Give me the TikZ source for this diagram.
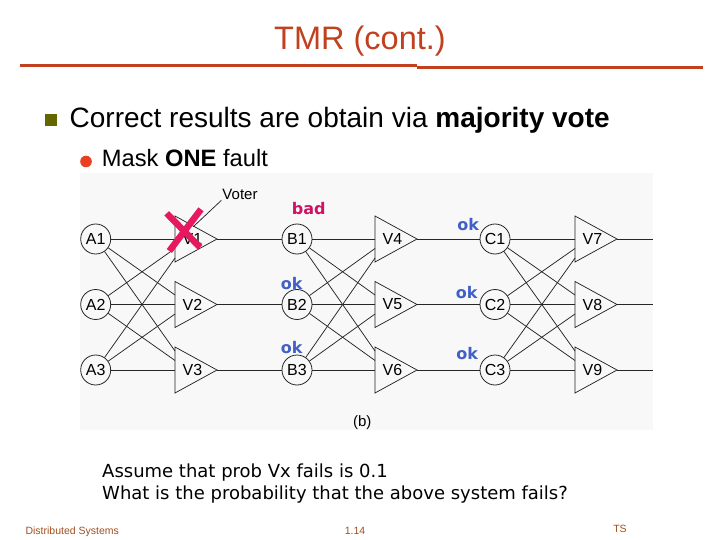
\documentclass[tikz,border=0pt]{standalone}
\usepackage{fontspec}
\setmainfont{Liberation Sans}
\newfontfamily\dejavu{DejaVu Sans}
\definecolor{titlered}{RGB}{192,64,32}
\definecolor{bulletolive}{RGB}{102,102,0}
\definecolor{dotred}{RGB}{232,64,32}
\definecolor{badred}{RGB}{204,20,100}
\definecolor{okblue}{RGB}{64,96,200}
\definecolor{xred}{RGB}{232,24,96}
\definecolor{footbrown}{RGB}{160,80,32}
\definecolor{figbg}{RGB}{248,248,248}
\newcommand\mkvoter[4]{%
  \begin{scope}[shift={(#2,#3)}]
    \draw[wire] (0,-23) -- (42,0) -- (0,23) -- cycle;
    \node[vlbl] (#1) at (17.5,0) {#1};
    \coordinate (#1-o) at (42,0);
    \coordinate (#1-a) at (0,{(1-#4)*9.5});
    \coordinate (#1-b) at (0,{(2-#4)*9.5});
    \coordinate (#1-c) at (0,{(3-#4)*9.5});
  \end{scope}}
\begin{document}
\begin{tikzpicture}[x=1pt,y=-1pt,
  wire/.style={draw=black!85, line width=0.75pt},
  unit/.style={circle, draw=black!85, line width=0.8pt, minimum size=30pt, inner sep=0pt, font=\fontsize{16}{16}\selectfont},
  vlbl/.style={inner sep=0pt, font=\fontsize{16}{16}\selectfont},
  stat/.style={inner sep=0pt, font=\dejavu\bfseries\fontsize{16}{16}\selectfont},
  xmark/.style={draw=xred, line width=6.5pt},
  foot/.style={anchor=base, text=footbrown, font=\fontsize{10.5}{11}\selectfont}]
\useasboundingbox (0,0) rectangle (720,540);
\fill[white] (0,0) rectangle (720,540);
% title
\node[anchor=base, text=titlered, font=\fontsize{32.5}{34}\selectfont, inner sep=0pt] (title) at (360,50) {TMR (cont.)};
\draw[titlered, line width=2.8pt] (20,65.7) -- (417,65.7);
\draw[titlered, line width=2.8pt] (417,67.3) -- (703,67.3);
% bullets
\fill[bulletolive] (44.5,114) rectangle (57,126.5);
\node[anchor=base west, inner sep=0pt, font=\fontsize{28}{30}\selectfont] (b1) at (69.5,127.5) {Correct results are obtain via \textbf{majority vote}};
\fill[dotred] (86,161.5) circle (5.8);
\node[anchor=base west, inner sep=0pt, font=\fontsize{23.7}{25}\selectfont] (b2) at (101.7,166.7) {Mask \textbf{ONE} fault};
% figure background
\fill[figbg] (80,173) rectangle (653,430);
% units
\node[unit] (A1) at (95.7,239) {A1};
\node[unit] (A2) at (95.7,304.5) {A2};
\node[unit] (A3) at (95.7,370) {A3};
\node[unit] (B1) at (297,239) {B1};
\node[unit] (B2) at (297,304.5) {B2};
\node[unit] (B3) at (297,370) {B3};
\node[unit] (C1) at (495,239) {C1};
\node[unit] (C2) at (495,304.5) {C2};
\node[unit] (C3) at (495,370) {C3};
% voters
\mkvoter{V1}{175}{239}{1}
\mkvoter{V2}{175}{304.5}{2}
\mkvoter{V3}{175}{370}{3}
\mkvoter{V4}{375}{239}{1}
\mkvoter{V5}{375}{304.5}{2}
\mkvoter{V6}{375}{370}{3}
\mkvoter{V7}{575}{239}{1}
\mkvoter{V8}{575}{304.5}{2}
\mkvoter{V9}{575}{370}{3}
% fan-in wires
\foreach \s/\r in {A1/a,A2/b,A3/c}{\foreach \v in {V1,V2,V3}{\draw[wire] (\s) -- (\v-\r);}}
\foreach \s/\r in {B1/a,B2/b,B3/c}{\foreach \v in {V4,V5,V6}{\draw[wire] (\s) -- (\v-\r);}}
\foreach \s/\r in {C1/a,C2/b,C3/c}{\foreach \v in {V7,V8,V9}{\draw[wire] (\s) -- (\v-\r);}}
% outputs
\draw[wire] (V1-o) -- (B1);
\draw[wire] (V2-o) -- (B2);
\draw[wire] (V3-o) -- (B3);
\draw[wire] (V4-o) -- (C1);
\draw[wire] (V5-o) -- (C2);
\draw[wire] (V6-o) -- (C3);
\coordinate (O7) at (653,239);
\coordinate (O8) at (653,304.5);
\coordinate (O9) at (653,370);
\draw[wire] (V7-o) -- (O7);
\draw[wire] (V8-o) -- (O8);
\draw[wire] (V9-o) -- (O9);
% voter callout
\node[inner sep=1pt, font=\fontsize{15}{15}\selectfont] (voterlbl) at (240,194) {Voter};
\coordinate (vtip) at (193.3,226.7);
\draw[wire] (voterlbl.south west) -- (vtip);
% red cross on V1
\draw[xmark] (166.7,213.3) -- (200,247.3);
\draw[xmark] (201,209.3) -- (169.3,251);
% status labels
\node[stat, text=badred] (sB1) at (308.7,209) {bad};
\node[stat, text=okblue] (sB2) at (291.7,283.3) {ok};
\node[stat, text=okblue] (sB3) at (291.7,347.3) {ok};
\node[stat, text=okblue] (sC1) at (468.3,225) {ok};
\node[stat, text=okblue] (sC2) at (466.7,292.3) {ok};
\node[stat, text=okblue] (sC3) at (467.3,354) {ok};
\node[inner sep=0pt, font=\fontsize{15}{15}\selectfont] (blbl) at (362.3,422.3) {(b)};
% question text
\node[anchor=base west, inner sep=0pt, font=\dejavu\fontsize{18}{22}\selectfont] (q1) at (102,477.3) {Assume that prob Vx fails is 0.1};
\node[anchor=base west, inner sep=0pt, font=\dejavu\fontsize{18}{22}\selectfont] (q2) at (102,499.5) {What is the probability that the above system fails?};
% footer
\node[foot, anchor=base west] (f1) at (22,534) {Distributed Systems};
\node[foot] (f2) at (355,534) {1.14};
\node[foot] (f3) at (620,532) {TS};
\end{tikzpicture}
\end{document}
